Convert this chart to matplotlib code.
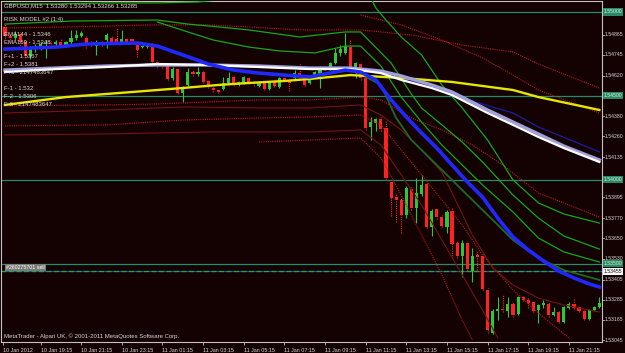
import numpy as np
import matplotlib
matplotlib.use("Agg")
import matplotlib.pyplot as plt
import matplotlib.transforms as mtransforms

# GBPUSD M15 candles (open, high, low, close)
opens = [1.54911, 1.54857, 1.54845, 1.54869, 1.54821, 1.54738, 1.54779, 1.54797, 1.54809, 1.54815,
         1.54809, 1.54821, 1.54803, 1.54821, 1.54845, 1.54857, 1.54845, 1.54815, 1.54797, 1.54821,
         1.54833, 1.54845, 1.54839, 1.54815, 1.54839, 1.54839, 1.54803, 1.54791, 1.54791, 1.54803,
         1.54702, 1.54696, 1.54684, 1.54607, 1.54660, 1.54517, 1.54565, 1.54642, 1.54630, 1.54642,
         1.54589, 1.54547, 1.54535, 1.54541, 1.54577, 1.54613, 1.54565, 1.54577, 1.54607, 1.54583,
         1.54559, 1.54577, 1.54541, 1.54583, 1.54553, 1.54607, 1.54595, 1.54607, 1.54636, 1.54607,
         1.54577, 1.54619, 1.54624, 1.54672, 1.54660, 1.54696, 1.54756, 1.54756, 1.54791, 1.54654,
         1.54690, 1.54607, 1.54315, 1.54338, 1.54362, 1.54309, 1.53987, 1.53897, 1.53880, 1.53790,
         1.53945, 1.53832, 1.53915, 1.53975, 1.53719, 1.53826, 1.53778, 1.53719, 1.53814, 1.53623,
         1.53546, 1.53623, 1.53456, 1.53552, 1.53546, 1.53343, 1.53087, 1.53218, 1.53230, 1.53218,
         1.53260, 1.53200, 1.53301, 1.53284, 1.53272, 1.53224, 1.53254, 1.53260, 1.53194, 1.53212,
         1.53152, 1.53236, 1.53260, 1.53242, 1.53218, 1.53170, 1.53224, 1.53242]
closes = [1.54857, 1.54845, 1.54869, 1.54821, 1.54738, 1.54779, 1.54797, 1.54809, 1.54815, 1.54809,
          1.54821, 1.54803, 1.54821, 1.54845, 1.54863, 1.54875, 1.54815, 1.54809, 1.54821, 1.54809,
          1.54863, 1.54815, 1.54821, 1.54839, 1.54815, 1.54827, 1.54773, 1.54797, 1.54803, 1.54702,
          1.54684, 1.54678, 1.54601, 1.54660, 1.54517, 1.54553, 1.54642, 1.54630, 1.54642, 1.54583,
          1.54553, 1.54535, 1.54523, 1.54577, 1.54607, 1.54565, 1.54583, 1.54613, 1.54577, 1.54571,
          1.54583, 1.54541, 1.54583, 1.54559, 1.54607, 1.54595, 1.54577, 1.54636, 1.54624, 1.54565,
          1.54607, 1.54642, 1.54672, 1.54660, 1.54696, 1.54756, 1.54779, 1.54797, 1.54672, 1.54696,
          1.54607, 1.54309, 1.54344, 1.54362, 1.54303, 1.54011, 1.53891, 1.53880, 1.53790, 1.53951,
          1.53832, 1.53921, 1.53969, 1.53719, 1.53814, 1.53778, 1.53725, 1.53808, 1.53617, 1.53546,
          1.53623, 1.53468, 1.53546, 1.53540, 1.53349, 1.53105, 1.53218, 1.53230, 1.53224, 1.53260,
          1.53194, 1.53301, 1.53284, 1.53266, 1.53218, 1.53254, 1.53266, 1.53194, 1.53212, 1.53152,
          1.53242, 1.53260, 1.53236, 1.53218, 1.53170, 1.53224, 1.53242, 1.53266]
highs = [1.54928, 1.54875, 1.54887, 1.54881, 1.54833, 1.54791, 1.54809, 1.54821, 1.54833, 1.54827,
         1.54833, 1.54839, 1.54827, 1.54893, 1.54893, 1.54887, 1.54857, 1.54827, 1.54833, 1.54827,
         1.54875, 1.54857, 1.54905, 1.54893, 1.54845, 1.54845, 1.54809, 1.54803, 1.54809, 1.54815,
         1.54714, 1.54702, 1.54690, 1.54672, 1.54666, 1.54559, 1.54666, 1.54654, 1.54672, 1.54648,
         1.54595, 1.54553, 1.54541, 1.54613, 1.54642, 1.54624, 1.54589, 1.54619, 1.54613, 1.54589,
         1.54589, 1.54583, 1.54589, 1.54589, 1.54613, 1.54613, 1.54601, 1.54654, 1.54690, 1.54613,
         1.54613, 1.54648, 1.54678, 1.54678, 1.54702, 1.54785, 1.54803, 1.54875, 1.54833, 1.54702,
         1.54702, 1.54613, 1.54374, 1.54368, 1.54374, 1.54356, 1.53999, 1.53921, 1.53891, 1.53963,
         1.53957, 1.54011, 1.54029, 1.53981, 1.53826, 1.53832, 1.53790, 1.53820, 1.53838, 1.53635,
         1.53641, 1.53635, 1.53593, 1.53582, 1.53558, 1.53355, 1.53230, 1.53301, 1.53313, 1.53301,
         1.53272, 1.53307, 1.53307, 1.53301, 1.53278, 1.53260, 1.53284, 1.53272, 1.53242, 1.53218,
         1.53248, 1.53272, 1.53295, 1.53248, 1.53224, 1.53230, 1.53248, 1.53301]
lows = [1.54839, 1.54821, 1.54833, 1.54785, 1.54726, 1.54720, 1.54762, 1.54773, 1.54726, 1.54797,
        1.54797, 1.54791, 1.54791, 1.54809, 1.54833, 1.54851, 1.54785, 1.54797, 1.54744, 1.54797,
        1.54785, 1.54809, 1.54815, 1.54809, 1.54809, 1.54821, 1.54732, 1.54785, 1.54785, 1.54690,
        1.54672, 1.54666, 1.54595, 1.54595, 1.54511, 1.54464, 1.54559, 1.54619, 1.54619, 1.54577,
        1.54547, 1.54523, 1.54517, 1.54535, 1.54571, 1.54559, 1.54559, 1.54571, 1.54571, 1.54559,
        1.54553, 1.54535, 1.54535, 1.54553, 1.54547, 1.54589, 1.54529, 1.54601, 1.54619, 1.54559,
        1.54571, 1.54613, 1.54547, 1.54654, 1.54654, 1.54690, 1.54738, 1.54750, 1.54666, 1.54607,
        1.54595, 1.54297, 1.54237, 1.54291, 1.54291, 1.53999, 1.53784, 1.53748, 1.53683, 1.53772,
        1.53820, 1.53742, 1.53903, 1.53713, 1.53665, 1.53766, 1.53719, 1.53683, 1.53534, 1.53534,
        1.53421, 1.53462, 1.53391, 1.53462, 1.53343, 1.53087, 1.53081, 1.53164, 1.53212, 1.53182,
        1.53182, 1.53194, 1.53278, 1.53236, 1.53212, 1.53146, 1.53236, 1.53182, 1.53188, 1.53146,
        1.53146, 1.53230, 1.53230, 1.53212, 1.53164, 1.53164, 1.53218, 1.53236]

# indicator lines, sampled at bar index
blue_x = [0, 10, 16, 26, 30, 35, 40, 45, 50, 55, 60, 64, 67, 70, 73, 76, 79, 82, 85, 88, 91, 94, 97,
          100, 103, 106, 109, 112, 115, 117]
blue_y = [1.54779, 1.54791, 1.54809, 1.54815, 1.54797, 1.54744, 1.54690, 1.54654, 1.54636, 1.54624,
          1.54613, 1.54636, 1.54654, 1.54642, 1.54595, 1.54476, 1.54374, 1.54279, 1.54189, 1.54088,
          1.53987, 1.53897, 1.53772, 1.53659, 1.53582, 1.53516, 1.53456, 1.53415, 1.53379, 1.53361]
white_x = [0, 10, 20, 30, 40, 50, 60, 68, 74, 78, 84, 88, 95, 100, 105, 110, 117]
white_y = [1.54642, 1.54660, 1.54672, 1.54690, 1.54684, 1.54672, 1.54660, 1.54660, 1.54636, 1.54595,
           1.54547, 1.54505, 1.54398, 1.54327, 1.54255, 1.54189, 1.54106]
lav_y = [1.54654, 1.54666, 1.54678, 1.54684, 1.54684, 1.54678, 1.54666, 1.54666, 1.54648, 1.54619,
         1.54565, 1.54523, 1.54416, 1.54344, 1.54273, 1.54201, 1.54118]
yellow_x = [0, 12, 25, 35, 42, 48, 55, 60, 68, 78, 88, 100, 105, 117]
yellow_y = [1.54446, 1.54493, 1.54523, 1.54547, 1.54565, 1.54577, 1.54589, 1.54601, 1.54624, 1.54607,
            1.54583, 1.54535, 1.54493, 1.54416]
navy_x = [70, 76, 84, 90, 100, 105, 117]
navy_y = [1.54654, 1.54619, 1.54559, 1.54487, 1.54398, 1.54315, 1.54166]

g0a_x = [0, 10, 20, 30, 38, 42]
g0a_y = [1.55048, 1.55048, 1.55054, 1.55054, 1.55060, 1.55072]
g0b_x = [72, 73, 75, 78, 82, 86, 90, 95, 100, 105, 110, 117]
g0b_y = [1.55083, 1.55024, 1.54952, 1.54851, 1.54744, 1.54565, 1.54428, 1.54237, 1.53999, 1.53862,
         1.53796, 1.53742]
g1_x = [0, 13, 30, 36, 42, 48, 58, 67, 70, 76, 80, 82, 86, 90, 94, 100, 105, 110, 117]
g1_y = [1.54928, 1.54946, 1.54952, 1.54928, 1.54911, 1.54893, 1.54851, 1.54881, 1.54881, 1.54696,
        1.54511, 1.54428, 1.54327, 1.54225, 1.54106, 1.53909, 1.53772, 1.53665, 1.53587]
g2_x = [30, 36, 41, 48, 54, 61, 67, 70, 74, 78, 82, 86, 90, 94, 100, 105, 110, 117]
g2_y = [1.54940, 1.54881, 1.54833, 1.54791, 1.54768, 1.54756, 1.54797, 1.54797, 1.54678, 1.54493,
        1.54344, 1.54207, 1.54088, 1.53969, 1.53808, 1.53653, 1.53570, 1.53510]
dg_x = [70, 74, 77, 80, 84, 88, 91, 94, 97, 100, 105, 110, 117]
dg_y = [1.54630, 1.54565, 1.54368, 1.54237, 1.54118, 1.53999, 1.53909, 1.53820, 1.53731, 1.53641,
        1.53534, 1.53462, 1.53403]

ru1_x = [0, 13, 30, 40, 48, 58, 70, 80, 90, 100, 105, 117]
ru1_y = [1.54905, 1.54911, 1.54923, 1.54923, 1.54911, 1.54893, 1.54893, 1.54863, 1.54803, 1.54762,
         1.54690, 1.54547]
ru2_x = [70, 78, 86, 94, 100, 105, 117]
ru2_y = [1.54982, 1.54923, 1.54833, 1.54726, 1.54624, 1.54535, 1.54398]
l1_x = [0, 20, 30, 40, 50, 60, 70, 74, 80, 86, 92, 98, 105, 117]
l1_y = [1.54440, 1.54446, 1.54452, 1.54464, 1.54476, 1.54476, 1.54493, 1.54476, 1.54368, 1.54297,
        1.54207, 1.54088, 1.53921, 1.53778]
l2_x = [0, 20, 35, 50, 60, 70, 74, 78, 82, 86, 88, 92, 96, 100, 105, 110, 117]
l2_y = [1.54398, 1.54416, 1.54434, 1.54428, 1.54428, 1.54446, 1.54386, 1.54297, 1.54178, 1.54046,
        1.53921, 1.53671, 1.53474, 1.53373, 1.53295, 1.53254, 1.53212]
l3_x = [0, 20, 35, 50, 60, 70, 74, 78, 82, 86, 90, 94, 100, 105, 111]
l3_y = [1.54321, 1.54327, 1.54356, 1.54368, 1.54374, 1.54386, 1.54327, 1.54178, 1.54029, 1.53880,
        1.53731, 1.53552, 1.53343, 1.53206, 1.53057]
l4_x = [0, 20, 40, 60, 70, 74, 78, 82, 86, 90, 94, 97]
l4_y = [1.54267, 1.54273, 1.54285, 1.54285, 1.54297, 1.54207, 1.54029, 1.53850, 1.53641, 1.53433,
        1.53224, 1.53057]
l5_x = [50, 60, 70, 74, 78, 82, 86, 90, 92]
l5_y = [1.54225, 1.54237, 1.54249, 1.54130, 1.53909, 1.53671, 1.53433, 1.53164, 1.53045]

levels = [1.55000, 1.54500, 1.54000, 1.53500]
order_price = 1.53455
price_ticks = [1.54865, 1.54745, 1.54620, 1.54380, 1.54260, 1.54135, 1.53895, 1.53770, 1.53650,
               1.53530, 1.53405, 1.53285, 1.53165, 1.53045]
time_ticks = [-0.45, 7, 15, 23, 31, 39, 47, 55, 63, 71, 79, 87, 95, 103, 111]
time_labels = ["10 Jan 2012", "10 Jan 19:15", "10 Jan 21:15", "10 Jan 23:15", "11 Jan 01:15",
               "11 Jan 03:15", "11 Jan 05:15", "11 Jan 07:15", "11 Jan 09:15", "11 Jan 11:15",
               "11 Jan 13:15", "11 Jan 15:15", "11 Jan 17:15", "11 Jan 19:15", "11 Jan 21:15"]

BG = '#140203'
FG = '#d8d8d8'
plt.rcParams['font.family'] = ['Liberation Sans', 'DejaVu Sans']

fig = plt.figure(figsize=(6.25, 3.53), dpi=100, facecolor=BG)
ax = fig.add_axes([1.5 / 625, 11 / 353, 600.5 / 625, 341 / 353])
ax.set_facecolor(BG)
ax.set_xlim(-0.69, 117.52)
ax.set_ylim(1.530331, 1.550655)

for lv in levels:
    ax.axhline(lv, color='#2a8a68', lw=0.9, zorder=1)
ax.axhline(order_price, color='#2f3fc8', lw=0.9, zorder=1)
ax.axhline(order_price, color='#2aa82a', lw=0.9, dashes=(4, 2), zorder=1)

# candles
x = np.arange(len(opens))
o = np.array(opens); c = np.array(closes); h = np.array(highs); l = np.array(lows)
up = c >= o
RED = '#ff2222'
GRN = '#30c830'
ax.vlines(x[up], l[up], h[up], color=GRN, lw=0.8, zorder=2)
ax.vlines(x[~up], l[~up], h[~up], color=RED, lw=0.8, linestyles=(0, (1, 1)), zorder=2)
body_lo = np.minimum(o, c)
body_h = np.maximum(np.abs(c - o), 0.00005)
ax.bar(x[up], body_h[up], bottom=body_lo[up], width=0.62, color=GRN, zorder=2.5, linewidth=0)
ax.bar(x[~up], body_h[~up], bottom=body_lo[~up], width=0.62, color=RED, zorder=2.5, linewidth=0)

# envelopes / bands
dot = (0, (1, 1))
for xs, ys, col, ls in [(ru1_x, ru1_y, '#c01818', dot), (ru2_x, ru2_y, '#c01818', dot),
                        (l1_x, l1_y, '#c01818', dot), (l2_x, l2_y, '#701414', '-'),
                        (l3_x, l3_y, '#c01818', dot), (l4_x, l4_y, '#701414', '-'),
                        (l5_x, l5_y, '#c01818', dot)]:
    ax.plot(xs, ys, color=col, lw=0.8, ls=ls, zorder=3)
for xs, ys in [(g0a_x, g0a_y), (g0b_x, g0b_y), (g1_x, g1_y), (g2_x, g2_y)]:
    ax.plot(xs, ys, color='#16a816', lw=0.9, zorder=3)
ax.plot(dg_x, dg_y, color='#1d6a28', lw=1.3, zorder=3)
ax.plot(navy_x, navy_y, color='#1c1ca0', lw=0.9, zorder=3)
ax.plot(yellow_x, yellow_y, color='#e6e600', lw=1.7, zorder=3.2)
ax.plot(white_x, lav_y, color='#a0a0dc', lw=2.4, zorder=3.3)
ax.plot(white_x, white_y, color='white', lw=1.6, zorder=3.4)
ax.plot(blue_x, blue_y, color='#2028ff', lw=2.6, zorder=3.5)

# frame and axes
for sp in ax.spines.values():
    sp.set_color('#c8c0c0')
    sp.set_linewidth(0.8)
ax.set_yticks([])
ax.set_xticks(time_ticks)
ax.set_xticklabels(time_labels, ha='left', fontsize=3.9, color=FG)
ax.tick_params(axis='x', length=2.5, width=0.6, color='#c8c0c0', pad=1.5)

tr = mtransforms.blended_transform_factory(ax.transAxes, ax.transData)
for p in price_ticks:
    ax.plot([1.0, 1.004], [p, p], transform=tr, color='#c8c0c0', lw=0.6, clip_on=False)
    ax.text(1.005, p, f"{p:.5f}", transform=tr, ha='left', va='center', fontsize=3.7, color=FG)
for lv in levels:
    ax.text(1.003, lv, f"{lv:.5f}", transform=tr, ha='left', va='center', fontsize=3.7,
            color='#d8f0d8', bbox=dict(boxstyle='square,pad=0.2', fc='#2a8a68', ec='none'))
ax.text(1.003, order_price, f"{order_price:.5f}", transform=tr, ha='left', va='center',
        fontsize=3.7, color='black', bbox=dict(boxstyle='square,pad=0.2', fc='white', ec='none'))

# overlay texts
def ftext(px, py, s, **kw):
    fig.text(px / 625, 1 - py / 353, s, ha='left', va='center', color=FG, fontsize=4.3, **kw)

ftext(4, 6, "GBPUSD,M15  1.53280 1.53294 1.53266 1.53285")
ftext(4, 20, "RISK MODEL #2 (1:4)")
ftext(4, 34, "EMA144 - 1.5346")
ftext(4, 43, "EMA169 - 1.5348")
ftext(4, 57, "F+1 - 1.5367")
ftext(4, 65, "F+2 - 1.5381")
ftext(4, 72, "F+3 - 2147483647")
ftext(4, 88, "F-1 - 1.532")
ftext(4, 96, "F-2 - 1.5306")
ftext(4, 104, "F-3 - 2147483647")
ftext(4, 336, "MetaTrader - Alpari UK, \u00a9 2001-2011 MetaQuotes Software Corp.")
fig.text(6 / 625, 1 - 267.5 / 353, "#260275701 sell", ha='left', va='center', color='white',
         fontsize=3.8, bbox=dict(boxstyle='square,pad=0.2', fc='#7a7a7a', ec='none'))

fig.savefig('out.png', dpi=100, facecolor=BG)
